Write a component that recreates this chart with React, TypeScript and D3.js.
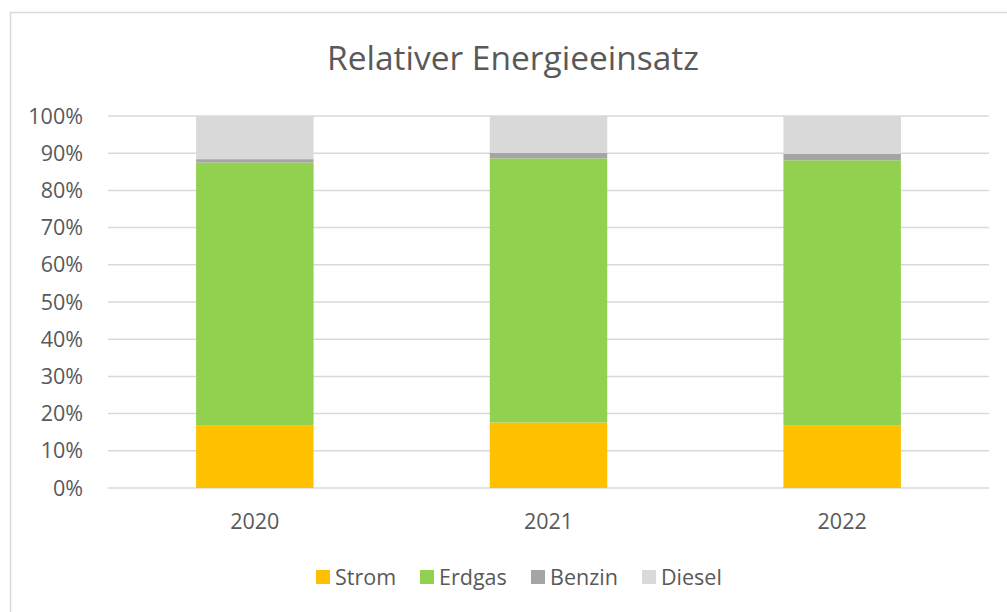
import React from "react";
import * as d3 from "d3";

const years = ["2020", "2021", "2022"];
const seriesNames = ["Strom", "Erdgas", "Benzin", "Diesel"];
const strom = [16.9, 17.6, 16.9];
const erdgas = [70.6, 71.0, 71.2];
const benzin = [0.9, 1.5, 1.7];
const diesel = [11.6, 9.9, 10.2];
const yTicks = [0, 10, 20, 30, 40, 50, 60, 70, 80, 90, 100];
const colors = ["#FFC000", "#92D050", "#A5A5A5", "#D9D9D9"];

const W = 1007;
const H = 612;
const FONT = "'Open Sans', 'Liberation Sans', sans-serif";
const TEXT = "#595959";

export default function App() {
  const rows = years.map((y, i) => ({
    year: y,
    Strom: strom[i],
    Erdgas: erdgas[i],
    Benzin: benzin[i],
    Diesel: diesel[i],
  }));
  const stack = d3.stack<any>().keys(seriesNames)(rows);
  const x = d3.scaleBand().domain(years).range([108, 989]).paddingInner(0.6).paddingOuter(0.3);
  const y = d3.scaleLinear().domain([0, 100]).range([488, 116]);

  const legendX = [316, 420, 531, 642];

  return (
    <svg width={W} height={H} style={{ position: "absolute", left: 0, top: 0 }}>
      <rect x={0} y={0} width={W} height={H} fill="#fff" />
      <rect x={10.5} y={12.5} width={1010} height={620} fill="none" stroke="#D9D9D9" strokeWidth={1.5} />
      <text x={513} y={70} textAnchor="middle" fontFamily={FONT} fontSize={33.5} fill={TEXT}>
        Relativer Energieeinsatz
      </text>
      {yTicks.map((t) => (
        <g key={t}>
          <line x1={108} x2={989} y1={y(t)} y2={y(t)} stroke="#D9D9D9" strokeWidth={1.5} />
          <text x={83} y={y(t)} dy="0.35em" textAnchor="end" fontFamily={FONT} fontSize={21.5} fill={TEXT}>
            {t}%
          </text>
        </g>
      ))}
      {stack.map((s, si) => (
        <g key={s.key} fill={colors[si]}>
          {s.map((d, i) => (
            <rect
              key={i}
              x={x(years[i])}
              width={x.bandwidth()}
              y={y(d[1])}
              height={y(d[0]) - y(d[1])}
            />
          ))}
        </g>
      ))}
      {years.map((yr) => (
        <text
          key={yr}
          x={(x(yr) as number) + x.bandwidth() / 2}
          y={521}
          dy="0.35em"
          textAnchor="middle"
          fontFamily={FONT}
          fontSize={21.5}
          fill={TEXT}
        >
          {yr}
        </text>
      ))}
      {seriesNames.map((n, i) => (
        <g key={n}>
          <rect x={legendX[i]} y={570} width={14} height={14} fill={colors[i]} />
          <text x={legendX[i] + 19} y={577} dy="0.35em" fontFamily={FONT} fontSize={21.5} fill={TEXT}>
            {n}
          </text>
        </g>
      ))}
    </svg>
  );
}
